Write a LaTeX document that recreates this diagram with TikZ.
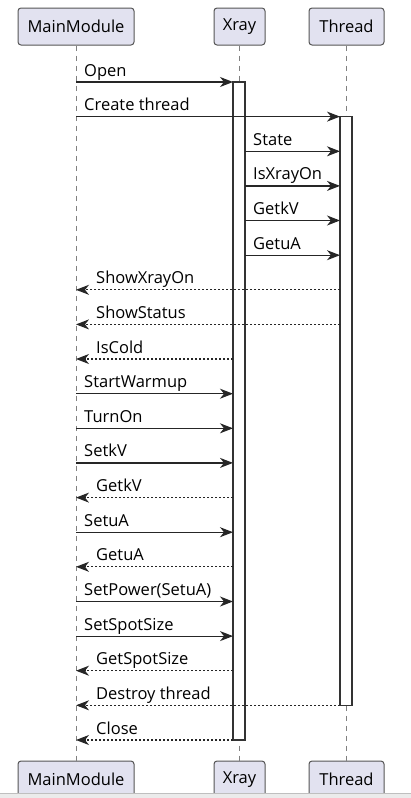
\documentclass[tikz,border=0pt]{standalone}
\usepackage{fontspec}
\setmainfont{Open Sans}
\usetikzlibrary{arrows.meta}
\definecolor{partfill}{HTML}{E2E2F0}
\definecolor{edgegray}{HTML}{555555}

\begin{document}
\begin{tikzpicture}[x=1pt,y=-1pt,
    part/.style={draw=edgegray,fill=partfill,rounded corners=3pt,line width=1pt,
        minimum height=37pt,inner xsep=0pt,font=\fontsize{16.5}{18}\selectfont},
    lifeline/.style={draw=gray,line width=0.8pt,dash pattern=on 5pt off 5pt},
    actbox/.style={draw=black!80,fill=white,line width=1.3pt},
    call/.style={draw=black!85,line width=1.2pt,-{Stealth[length=13pt,width=10pt,inset=4pt]}},
    reply/.style={call,dash pattern=on 2pt off 2pt},
    msg/.style={font=\fontsize{16.5}{18}\selectfont,anchor=base west,inner sep=0pt}]
    \useasboundingbox (0,0) rectangle (411,798);
    % Participants, top and bottom
    \node[part,minimum width=116pt] (mainTop) at (76,26.5) {MainModule};
    \node[part,minimum width=51pt] (xrayTop) at (239.5,26.5) {Xray};
    \node[part,minimum width=75pt] (threadTop) at (346.5,26.5) {Thread};
    \node[part,minimum width=116pt] (mainBot) at (76,779.5) {MainModule};
    \node[part,minimum width=51pt] (xrayBot) at (239.5,779.5) {Xray};
    \node[part,minimum width=75pt] (threadBot) at (346.5,779.5) {Thread};
    % Lifelines
    \draw[lifeline] (mainTop) -- (mainBot);
    \draw[lifeline] (xrayTop) -- (xrayBot);
    \draw[lifeline] (threadTop) -- (threadBot);
    % Activations
    \draw[actbox] (233,82) rectangle (245,740);
    \draw[actbox] (340,116.6) rectangle (352,705.3);
    % Calls
    \foreach \y/\xa/\xb/\txt [count=\i] in {82/76/233/Open, 116.6/76/340/Create thread,
        151.3/245/340/State, 185.9/245/340/IsXrayOn, 220.5/245/340/GetkV,
        255.2/245/340/GetuA, 393.7/76/233/StartWarmup, 428.3/76/233/TurnOn,
        462.9/76/233/SetkV, 532.2/76/233/SetuA, 601.5/76/233/SetPower(SetuA),
        636.1/76/233/SetSpotSize}{
        \coordinate (call\i-s) at (\xa,\y);
        \coordinate (call\i-e) at (\xb,\y);
        \draw[call] (call\i-s) -- (call\i-e);
        \node[msg] (callLbl\i) at ([shift={(8,-6)}]call\i-s) {\txt};
    }
    % Replies
    \foreach \y/\xa/\xb/\txt [count=\i] in {289.8/340/76/ShowXrayOn, 324.4/340/76/ShowStatus,
        359.0/233/76/IsCold, 497.6/233/76/GetkV, 566.8/233/76/GetuA,
        670.7/233/76/GetSpotSize, 705.3/340/76/Destroy thread, 740/233/76/Close}{
        \coordinate (reply\i-s) at (\xa,\y);
        \coordinate (reply\i-e) at (\xb,\y);
        \draw[reply] (reply\i-s) -- (reply\i-e);
        \node[msg] (replyLbl\i) at ([shift={(20,-6)}]reply\i-e) {\txt};
    }
    % Page edge
    \fill[black!8] (0,793) rectangle (411,798);
    \draw[black!25] (0,793) -- (411,793);
\end{tikzpicture}
\end{document}
